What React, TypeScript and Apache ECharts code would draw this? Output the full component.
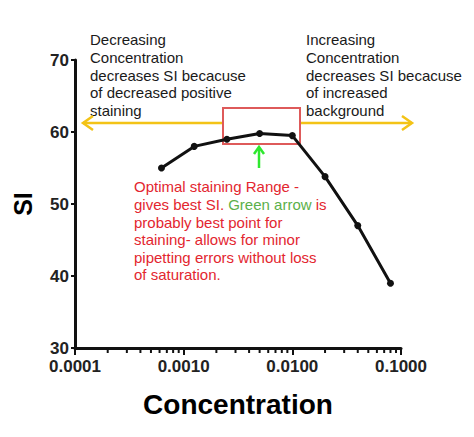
import React, { useEffect, useRef } from "react";
import * as echarts from "echarts";

const concentrations = [0.000625, 0.00125, 0.0025, 0.005, 0.01, 0.02, 0.04, 0.08];
const siValues = [55, 58, 59, 59.8, 59.5, 53.8, 47, 39];
const minorTicks = [
  0.0002, 0.0003, 0.0004, 0.0005, 0.0006, 0.0007, 0.0008, 0.0009,
  0.002, 0.003, 0.004, 0.005, 0.006, 0.007, 0.008, 0.009,
  0.02, 0.03, 0.04, 0.05, 0.06, 0.07, 0.08, 0.09,
];
const xAxisName = "Concentration";
const yAxisName = "SI";
const leftNote = "Decreasing\nConcentration\ndecreases SI becacuse\nof decreased positive\nstaining";
const rightNote = "Increasing\nConcentration\ndecreases SI becacuse\nof increased\nbackground";
const redNote = [
  "{r|Optimal staining Range -}",
  "{r|gives best SI. }{g|Green arrow}{r| is}",
  "{r|probably best point for}",
  "{r|staining- allows for minor}",
  "{r|pipetting errors without loss}",
  "{r|of saturation.}",
].join("\n");

const FONT = "'Liberation Sans', Arial, Helvetica, sans-serif";
const NARROW = "'Liberation Sans Narrow', 'Liberation Sans', sans-serif";
const YELLOW = "#f3c316";
const RED = "#e3262f";

export default function App() {
  const ref = useRef<HTMLDivElement>(null);
  useEffect(() => {
    if (!ref.current) return;
    const chart = echarts.init(ref.current, undefined, { renderer: "svg" });
    chart.setOption({
      animation: false,
      backgroundColor: "#ffffff",
      grid: { left: 75, right: 73, top: 60, bottom: 89 },
      xAxis: {
        type: "log",
        logBase: 10,
        min: 0.0001,
        max: 0.1,
        name: xAxisName,
        nameLocation: "middle",
        nameGap: 42,
        nameTextStyle: { fontFamily: FONT, fontWeight: "bold", fontSize: 28, color: "#000" },
        axisLine: { lineStyle: { color: "#111", width: 3 } },
        axisTick: { length: 7, lineStyle: { color: "#111", width: 2 } },
        axisLabel: {
          margin: 10,
          fontFamily: NARROW,
          fontWeight: "bold",
          fontSize: 17,
          color: "#222",
          formatter: (v: number) => v.toFixed(4),
        },
        splitLine: { show: false },
      },
      yAxis: {
        type: "value",
        min: 30,
        max: 70,
        interval: 10,
        name: yAxisName,
        nameLocation: "middle",
        nameRotate: 90,
        nameGap: 40,
        nameTextStyle: { fontFamily: FONT, fontWeight: "bold", fontSize: 25, color: "#000" },
        axisLine: { show: true, lineStyle: { color: "#111", width: 3 } },
        axisTick: { show: true, length: 4, lineStyle: { color: "#111", width: 2 } },
        axisLabel: {
          margin: 6,
          fontFamily: NARROW,
          fontWeight: "bold",
          fontSize: 17,
          color: "#222",
        },
        splitLine: { show: false },
      },
      series: [
        {
          type: "line",
          data: concentrations.map((c, i) => [c, siValues[i]]),
          symbol: "circle",
          symbolSize: 7,
          itemStyle: { color: "#111" },
          lineStyle: { color: "#111", width: 3 },
          z: 5,
        },
        {
          type: "custom",
          clip: false,
          silent: true,
          data: minorTicks.map((v) => [v, 30]),
          renderItem: (params: any, api: any) => {
            const p = api.coord([api.value(0), api.value(1)]);
            return {
              type: "line",
              shape: { x1: p[0], y1: p[1], x2: p[0], y2: p[1] + 5 },
              style: { stroke: "#111", lineWidth: 2 },
            };
          },
        },
      ],
      graphic: [
        {
          type: "text",
          left: 90,
          top: 31,
          style: {
            text: leftNote,
            fontFamily: FONT,
            fontSize: 15,
            lineHeight: 17.6,
            fill: "#1a1a1a",
          },
        },
        {
          type: "text",
          left: 306,
          top: 31,
          style: {
            text: rightNote,
            fontFamily: FONT,
            fontSize: 15,
            lineHeight: 17.6,
            fill: "#1a1a1a",
          },
        },
        {
          type: "polyline",
          shape: { points: [[223, 123], [83, 123]] },
          style: { stroke: YELLOW, lineWidth: 2.5, fill: null },
        },
        {
          type: "polyline",
          shape: { points: [[93, 116], [83, 123], [93, 130]] },
          style: { stroke: YELLOW, lineWidth: 2.5, fill: null },
        },
        {
          type: "polyline",
          shape: { points: [[300, 123], [412, 123]] },
          style: { stroke: YELLOW, lineWidth: 2.5, fill: null },
        },
        {
          type: "polyline",
          shape: { points: [[402, 116], [412, 123], [402, 130]] },
          style: { stroke: YELLOW, lineWidth: 2.5, fill: null },
        },
        {
          type: "rect",
          shape: { x: 223, y: 108, width: 77, height: 36 },
          style: { stroke: "#de5a5a", lineWidth: 2, fill: null },
        },
        {
          type: "polyline",
          shape: { points: [[259, 168], [259, 148]] },
          style: { stroke: "#2fe82f", lineWidth: 2.5, fill: null },
        },
        {
          type: "polyline",
          shape: { points: [[254, 154], [259, 147], [264, 154]] },
          style: { stroke: "#2fe82f", lineWidth: 2.5, fill: null },
        },
        {
          type: "text",
          left: 134,
          top: 178,
          style: {
            text: redNote,
            fontFamily: FONT,
            fontSize: 15,
            lineHeight: 17.6,
            rich: {
              r: { fill: RED, fontFamily: FONT, fontSize: 15, lineHeight: 17.6 },
              g: { fill: "#5bb04a", fontFamily: FONT, fontSize: 15, lineHeight: 17.6 },
            },
          },
        },
      ],
    });
    return () => chart.dispose();
  }, []);
  return (
    <div
      ref={ref}
      style={{ position: "fixed", left: 0, top: 0, width: 474, height: 437, background: "#fff" }}
    />
  );
}
